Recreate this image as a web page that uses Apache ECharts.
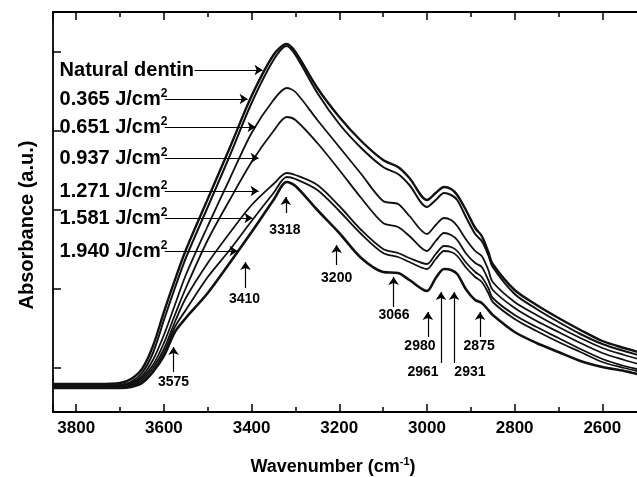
<!DOCTYPE html>
<html>
<head>
<meta charset="utf-8">
<script src="https://cdn.jsdelivr.net/npm/echarts@6/dist/echarts.min.js"></script>
<style>
  html, body { margin: 0; padding: 0; background: #fff; }
  #chart { width: 637px; height: 477px; }
</style>
</head>
<body>
<div id="chart"></div>
<script>
// wavenumber samples (cm-1), shared by every spectrum
const wavenumbers = [3853, 3750, 3700, 3675, 3650, 3625, 3600, 3575, 3550, 3500,
  3450, 3400, 3350, 3320, 3300, 3250, 3200, 3150, 3100, 3066,
  3040, 3000, 2980, 2961, 2945, 2931, 2910, 2890, 2875, 2860,
  2850, 2800, 2750, 2700, 2650, 2600, 2550, 2510];

// absorbance, arbitrary units
const naturalDentin = [28, 28, 29, 33, 43, 66, 100, 132, 162, 213,
  264, 316, 357, 368, 360, 324, 295, 271, 252, 245,
  234, 212, 219, 225, 223, 217, 201, 184, 176, 160,
  148, 122, 107, 94, 82, 71, 64, 59];
const dose0365 = [26, 26, 27, 30, 39, 59, 92, 124, 154, 205,
  256, 309, 352, 366, 357, 319, 288, 264, 245, 238,
  227, 205, 212, 219, 217, 212, 194, 178, 171, 157,
  145, 118, 103, 90, 78, 68, 61, 56];
const dose0651 = [26, 26, 27, 29, 36, 52, 77, 107, 137, 186,
  233, 279, 312, 324, 320, 292, 265, 238, 211, 208,
  196, 178, 187, 194, 192, 186, 172, 161, 156, 142,
  130, 110, 97, 85, 74, 64, 57, 52];
const dose0937 = [25, 25, 26, 28, 34, 47, 69, 97, 124, 172,
  212, 250, 281, 295, 292, 269, 242, 214, 189, 185,
  176, 161, 171, 179, 177, 172, 158, 149, 145, 132,
  122, 104, 91, 80, 69, 59, 52, 47];
const dose1271 = [25, 25, 26, 27, 32, 44, 63, 90, 114, 149,
  179, 207, 228, 239, 237, 227, 206, 182, 163, 159,
  154, 148, 158, 166, 165, 161, 149, 140, 135, 124,
  114, 97, 85, 74, 63, 53, 46, 42];
const dose1581 = [25, 25, 25, 26, 30, 41, 59, 85, 102, 135,
  162, 191, 219, 235, 233, 222, 201, 178, 159, 155,
  150, 143, 153, 161, 160, 156, 144, 135, 130, 119,
  110, 93, 81, 70, 60, 50, 44, 40];
const dose1940 = [24, 24, 24, 25, 29, 40, 56, 80, 94, 119,
  149, 180, 212, 230, 226, 202, 179, 154, 140, 139,
  132, 121, 134, 143, 142, 138, 122, 112, 109, 102,
  97, 80, 69, 60, 51, 45, 41, 37];

const curveNames = ['Natural dentin', '0.365 J/cm2', '0.651 J/cm2', '0.937 J/cm2',
  '1.271 J/cm2', '1.581 J/cm2', '1.940 J/cm2'];
const curves = [naturalDentin, dose0365, dose0651, dose0937, dose1271, dose1581, dose1940];
const curveWidths = [2.4, 2, 1.8, 1.8, 1.8, 1.8, 2.6];

// labelled arrows on the left (arrow from text end to the curve)
const legendRowY = [342, 313, 285, 254, 221, 194, 161];
const legendTextX = 3838;
const legendArrowFrom = [3530, 3598, 3598, 3598, 3598, 3598, 3598];
const legendArrowTo = [3375, 3409, 3391, 3384, 3384, 3398, 3432];

// band assignments (vertical arrows)
const bandLabels = ['3575', '3410', '3318', '3200', '3066', '2980', '2961', '2931', '2875'];
const bandArrowX = [3578, 3414, 3322, 3206, 3076, 2998, 2968, 2938, 2879];
const bandArrowFrom = [40, 124, 199, 147, 105, 75, 49, 49, 75];
const bandArrowTo = [65, 150, 215, 167, 135, 100, 120, 120, 100];
const bandTextX = [3578, 3416, 3324, 3206, 3075, 3016, 3009, 2902, 2881];
const bandTextY = [30, 113, 182, 134, 97, 66, 40, 40, 66];

const yTicks = [44, 123, 202, 281, 360];

const FONT = 'Liberation Sans';
const INK = '#000';

const richLabel = {
  b: { fontFamily: FONT, fontWeight: 'bold', fontSize: 20, color: INK, lineHeight: 22 },
  s: { fontFamily: FONT, fontWeight: 'bold', fontSize: 12, color: INK, lineHeight: 12, verticalAlign: 'top' }
};

function richName(name) {
  if (name.endsWith('J/cm2')) return '{b|' + name.slice(0, -1) + '}{s|2}';
  return '{b|' + name + '}';
}

const lineSeries = curves.map((vals, i) => ({
  name: curveNames[i],
  type: 'line',
  data: wavenumbers.map((w, k) => [w, vals[k]]),
  smooth: 0.3,
  showSymbol: false,
  lineStyle: { color: '#111', width: curveWidths[i] },
  emphasis: { disabled: true },
  z: 3
}));

const legendSeries = {
  type: 'scatter',
  symbolSize: 0,
  silent: true,
  itemStyle: { opacity: 1 },
  data: curveNames.map((n, i) => ({
    value: [legendTextX, legendRowY[i]],
    label: { formatter: richName(n) }
  })),
  label: { show: true, position: 'right', distance: 0, rich: richLabel },
  markLine: {
    silent: true,
    symbol: ['none', 'arrow'],
    symbolSize: 8,
    label: { show: false },
    lineStyle: { color: INK, width: 1.2, type: 'solid', opacity: 1 },
    emphasis: { disabled: true },
    data: legendRowY.map((y, i) => [
      { coord: [legendArrowFrom[i], y] },
      { coord: [legendArrowTo[i], y] }
    ])
  },
  z: 4
};

const bandSeries = {
  type: 'scatter',
  symbolSize: 0,
  silent: true,
  itemStyle: { opacity: 1 },
  data: bandLabels.map((t, i) => ({ value: [bandTextX[i], bandTextY[i]], name: t })),
  label: {
    show: true, position: 'inside', formatter: '{b}',
    fontFamily: FONT, fontWeight: 'bold', fontSize: 14, color: INK
  },
  markLine: {
    silent: true,
    symbol: ['none', 'arrow'],
    symbolSize: 8,
    label: { show: false },
    lineStyle: { color: INK, width: 1.2, type: 'solid', opacity: 1 },
    emphasis: { disabled: true },
    data: bandArrowX.map((x, i) => [
      { coord: [x, bandArrowFrom[i]] },
      { coord: [x, bandArrowTo[i]] }
    ])
  },
  z: 4
};

const axisLine = { show: true, onZero: false, lineStyle: { color: INK, width: 1.8 } };
const tickStyle = { color: INK, width: 1.5 };

const chart = echarts.init(document.getElementById('chart'));
chart.setOption({
  animation: false,
  backgroundColor: '#fff',
  grid: { left: 53, top: 12, width: 637, height: 400, outerBoundsMode: 'none', containLabel: false },
  xAxis: [{
    type: 'value', position: 'bottom', inverse: true,
    min: 2400, max: 3853, interval: 200,
    axisLine: axisLine,
    axisTick: { show: true, inside: true, length: 8, lineStyle: tickStyle },
    minorTick: { show: true, splitNumber: 2, length: 5, lineStyle: tickStyle },
    axisLabel: {
      show: true, margin: 8, fontFamily: FONT, fontWeight: 'bold', fontSize: 17, color: INK,
      showMinLabel: false, formatter: v => String(v)
    },
    splitLine: { show: false },
    name: '{a|Wavenumber (cm}{s|-1}{a|)}',
    nameLocation: 'middle', nameGap: 44,
    nameTextStyle: {
      padding: [0, 77, 0, 0],
      rich: {
        a: { fontFamily: FONT, fontWeight: 'bold', fontSize: 18, color: INK, lineHeight: 22 },
        s: { fontFamily: FONT, fontWeight: 'bold', fontSize: 11, color: INK, lineHeight: 11, verticalAlign: 'top' }
      }
    }
  }, {
    type: 'value', position: 'top', inverse: true,
    min: 2400, max: 3853, interval: 200,
    axisLine: axisLine,
    axisTick: { show: true, inside: true, length: 8, lineStyle: tickStyle },
    minorTick: { show: true, splitNumber: 2, length: 5, lineStyle: tickStyle },
    axisLabel: { show: false },
    splitLine: { show: false }
  }],
  yAxis: {
    type: 'value', min: 0, max: 400,
    axisLine: axisLine,
    axisTick: { show: true, inside: true, length: 8, lineStyle: tickStyle, customValues: yTicks },
    axisLabel: { show: false },
    splitLine: { show: false },
    name: 'Absorbance (a.u.)',
    nameLocation: 'middle', nameGap: 16,
    nameTextStyle: { fontFamily: FONT, fontWeight: 'bold', fontSize: 20, color: INK, padding: [0, 26, 0, 0] }
  },
  series: lineSeries.concat([legendSeries, bandSeries])
});
</script>
</body>
</html>
